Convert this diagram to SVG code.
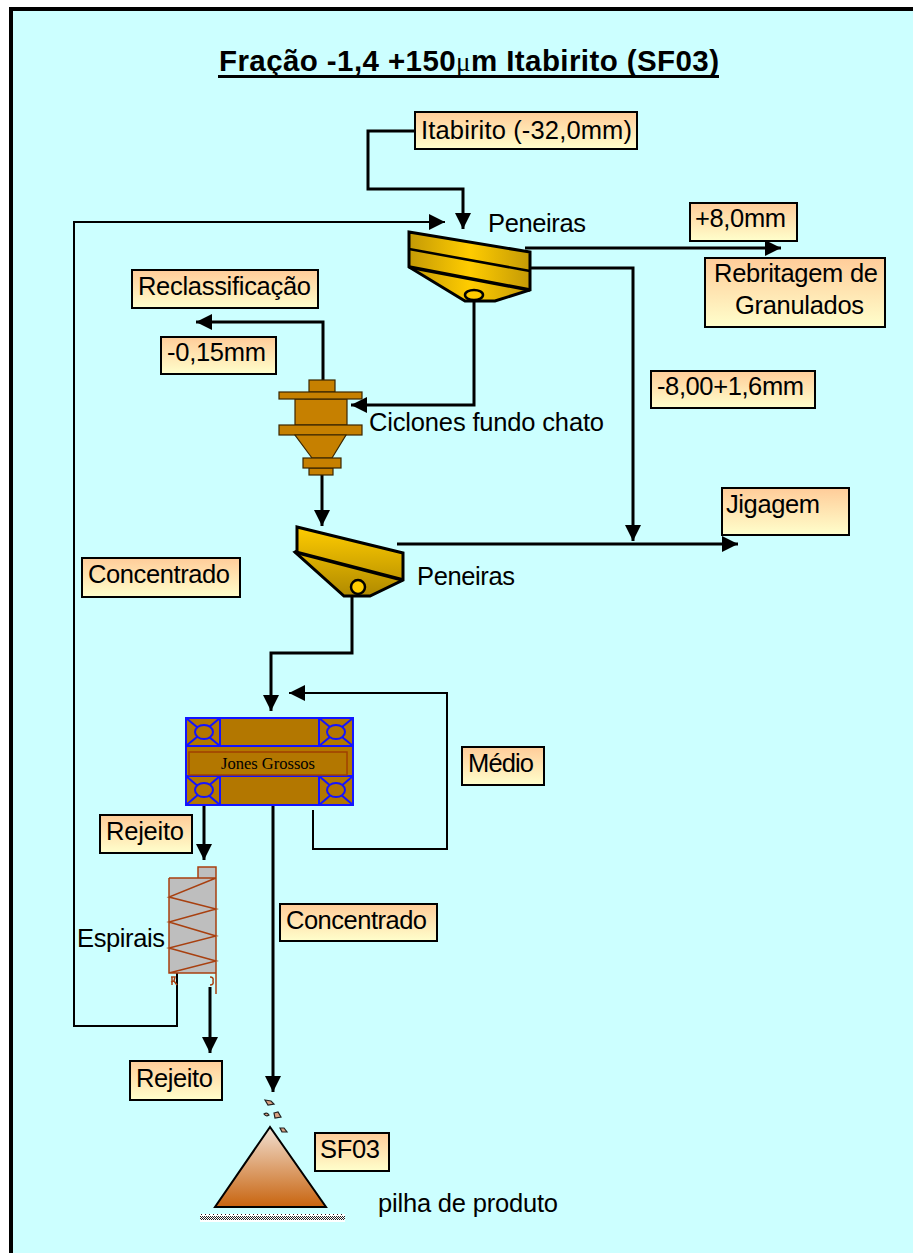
<svg xmlns="http://www.w3.org/2000/svg" width="913" height="1253" viewBox="0 0 913 1253">
<style>
text{font-family:"Liberation Sans",Arial,sans-serif;font-size:25.5px;fill:#000}
.box{fill:url(#boxg);stroke:#000;stroke-width:2}
.c{fill:none;stroke:#000;stroke-width:3}
.t{fill:none;stroke:#000;stroke-width:2}
.cy{fill:#C68000;stroke:#3a2600;stroke-width:1.2}
.j{fill:none;stroke:#1414ff;stroke-width:2}
.s{fill:none;stroke:#A84010;stroke-width:1.5}
.ol{fill:none;stroke:#000;stroke-width:3.5}
.p{fill:#D9A080;stroke:#222;stroke-width:1.2}
</style>
<defs>
<linearGradient id="boxg" x1="0" y1="0" x2="0" y2="1"><stop offset="0" stop-color="#FFCC99"/><stop offset="1" stop-color="#FFFFCC"/></linearGradient>
<linearGradient id="sc1" x1="0" y1="0" x2="1" y2="0"><stop offset="0" stop-color="#C49A06"/><stop offset=".5" stop-color="#FFCC00"/><stop offset="1" stop-color="#C49A06"/></linearGradient>
<linearGradient id="sc2" x1="0" y1="0" x2="0" y2="1"><stop offset="0" stop-color="#FFCC00"/><stop offset="1" stop-color="#B08A00"/></linearGradient>
<linearGradient id="pile" x1="0" y1="0" x2="0" y2="1"><stop offset="0" stop-color="#F2E0D2"/><stop offset="1" stop-color="#C8640F"/></linearGradient>
<pattern id="hatch" width="4" height="8" patternUnits="userSpaceOnUse"><rect width="4" height="8" fill="#fff"/><path d="M0 0L4 4M2 0L4 2M0 2L2 4" stroke="#222" stroke-width="1"/><rect x="1" y="6" width="1" height="1" fill="#222"/></pattern>
<marker id="a" markerUnits="userSpaceOnUse" markerWidth="17" markerHeight="18" refX="16" refY="9" orient="auto"><path d="M0 1L16 9L0 17Z" fill="#000"/></marker>
</defs>
<rect width="913" height="1253" fill="#fff"/>
<rect x="11" y="9" width="910" height="1252" fill="#CCFFFF" stroke="#000" stroke-width="4"/>
<g id="title"><text x="219" y="71" style="font-size:29.5px;font-weight:bold" textLength="500" lengthAdjust="spacing">Fração -1,4 +150<tspan style="font-family:'Liberation Serif',serif;font-weight:normal;font-size:27px">μ</tspan>m Itabirito (SF03)</text><rect x="218" y="75" width="501" height="3"/></g>
<g id="connectors">
<path class="c" marker-end="url(#a)" d="M415 131H368V189H463V229"/>
<path class="t" marker-end="url(#a)" d="M177 973V1026H74V222H445"/>
<path class="c" marker-end="url(#a)" d="M525 248H781"/>
<path class="c" marker-end="url(#a)" d="M525 268H633V541"/>
<path class="c" marker-end="url(#a)" d="M397 544H738"/>
<path class="c" marker-end="url(#a)" d="M474 301V405H351"/>
<path class="c" marker-end="url(#a)" d="M323 380V322H196"/>
<path class="c" marker-end="url(#a)" d="M322 475V526"/>
<path class="c" marker-end="url(#a)" d="M352 596V653H271V711"/>
<path class="t" marker-end="url(#a)" d="M313 810V849H447V693H289"/>
<path class="c" marker-end="url(#a)" d="M204 805V860"/>
<path class="c" marker-end="url(#a)" d="M273 805V1092"/>
<path class="c" marker-end="url(#a)" d="M210 987V1053"/>
</g>
<g id="peneira1"><path d="M409 232L530 252V290L495 301H465L409 267Z" fill="url(#sc1)" stroke="#000" stroke-width="3"/><path fill="none" stroke="#000" stroke-width="2.5" d="M409 249L530 271"/><path class="ol" d="M409 267L530 290"/><ellipse cx="474" cy="295" rx="9" ry="5" fill="#FFCC00" stroke="#000" stroke-width="2.5"/></g>
<g id="ciclone"><rect class="cy" x="309" y="380" width="26" height="12"/><rect class="cy" x="295" y="399" width="52" height="26"/><rect class="cy" x="279" y="392" width="83" height="7"/><rect class="cy" x="279" y="425" width="83" height="10"/><path class="cy" d="M295 435H346L332 458H312Z"/><rect class="cy" x="309" y="468" width="24" height="7"/><rect class="cy" x="303" y="458" width="38" height="10"/></g>
<g id="peneira2"><path d="M297 527L403 553V580L370 596H344L295 552L297 551Z" fill="url(#sc2)" stroke="#000" stroke-width="3"/><path class="ol" d="M295 552L403 580"/><circle cx="358" cy="587" r="7" fill="#FFCC00" stroke="#000" stroke-width="2.5"/></g>
<g id="jones"><rect x="186" y="718" width="167" height="87" fill="#B37700"/><path class="j" d="M186 718H353V805H186ZM186 746H353M186 776H353M220 718V746M319 718V746M220 776V805M319 776V805M186 718L220 746M220 718L186 746M319 718L353 746M353 718L319 746M186 776L220 805M220 776L186 805M319 776L353 805M353 776L319 805"/>
<ellipse cx="204" cy="732" rx="9" ry="7" fill="#B37700" stroke="#1414ff" stroke-width="2"/><ellipse cx="336" cy="732" rx="9" ry="7" fill="#B37700" stroke="#1414ff" stroke-width="2"/><ellipse cx="204" cy="790" rx="9" ry="7" fill="#B37700" stroke="#1414ff" stroke-width="2"/><ellipse cx="336" cy="790" rx="9" ry="7" fill="#B37700" stroke="#1414ff" stroke-width="2"/>
<rect x="189" y="752" width="158" height="23" fill="#B37700" stroke="#A04000" stroke-width="1.5"/><text x="268" y="769" text-anchor="middle" style="font-family:'Liberation Serif',serif;font-size:16.5px">Jones Grossos</text></g>
<g id="espirais"><path d="M169 878H198V867H216V973H169Z" fill="#BEBEBE"/><path class="s" d="M198 878V867H216V994M169 878H216M169 878V973H216M216 878L169 897L216 909L169 922L216 936L169 948L216 961L169 973"/><path class="s" stroke-width="2" d="M171 977H175L174 981L171 982M172 977V985M174 981L177 985M210 977Q214 977 213 981Q214 985 210 985"/></g>
<g id="pilha"><rect x="200" y="1214" width="145" height="8" fill="url(#hatch)"/><path d="M270 1127L215 1207H326Z" fill="url(#pile)" stroke="#000" stroke-width="2"/><path class="p" d="M265 1100L271 1101L274 1104L268 1105Z"/><path class="p" d="M264 1114Q267 1112 269 1115Q266 1117 264 1114Z"/><path class="p" d="M274 1113L278 1112L281 1117L275 1118Z"/><path class="p" d="M280 1128L284 1128L287 1132L282 1132Z"/></g>
<g id="n1"><rect class="box" x="415" y="112" width="222" height="37"/><text x="421" y="139" textLength="211">Itabirito (-32,0mm)</text></g>
<g id="n2"><rect class="box" x="690" y="203" width="107" height="38"/><text x="695" y="227" textLength="91">+8,0mm</text></g>
<g id="n3"><rect class="box" x="705" y="258" width="180" height="69"/><text x="714" y="282" textLength="164">Rebritagem de</text><text x="735" y="314" textLength="129">Granulados</text></g>
<g id="n4"><rect class="box" x="132" y="270" width="186" height="38"/><text x="138" y="295" textLength="173">Reclassificação</text></g>
<g id="n5"><rect class="box" x="161" y="337" width="115" height="37"/><text x="167" y="361" textLength="99">-0,15mm</text></g>
<g id="n6"><rect class="box" x="651" y="371" width="164" height="37"/><text x="657" y="395" textLength="147">-8,00+1,6mm</text></g>
<g id="n7"><rect class="box" x="722" y="488" width="127" height="47"/><text x="726" y="513" textLength="94">Jigagem</text></g>
<g id="n8"><rect class="box" x="82" y="558" width="158" height="39"/><text x="88" y="583" textLength="142">Concentrado</text></g>
<g id="n9"><rect class="box" x="462" y="747" width="82" height="38"/><text x="468" y="772" textLength="66">Médio</text></g>
<g id="n10"><rect class="box" x="100" y="815" width="92" height="38"/><text x="106" y="840" textLength="78">Rejeito</text></g>
<g id="n11"><rect class="box" x="280" y="904" width="157" height="37"/><text x="286" y="929" textLength="141">Concentrado</text></g>
<g id="n12"><rect class="box" x="130" y="1061" width="92" height="39"/><text x="136" y="1087" textLength="77">Rejeito</text></g>
<g id="n13"><rect class="box" x="315" y="1133" width="74" height="38"/><text x="320" y="1158" textLength="60">SF03</text></g>
<g id="labels"><text x="488" y="232" textLength="98">Peneiras</text><text x="417" y="585" textLength="98">Peneiras</text><text x="369" y="431" textLength="235">Ciclones fundo chato</text><text x="77" y="947" textLength="88">Espirais</text><text x="378" y="1212" textLength="180">pilha de produto</text></g>
</svg>
